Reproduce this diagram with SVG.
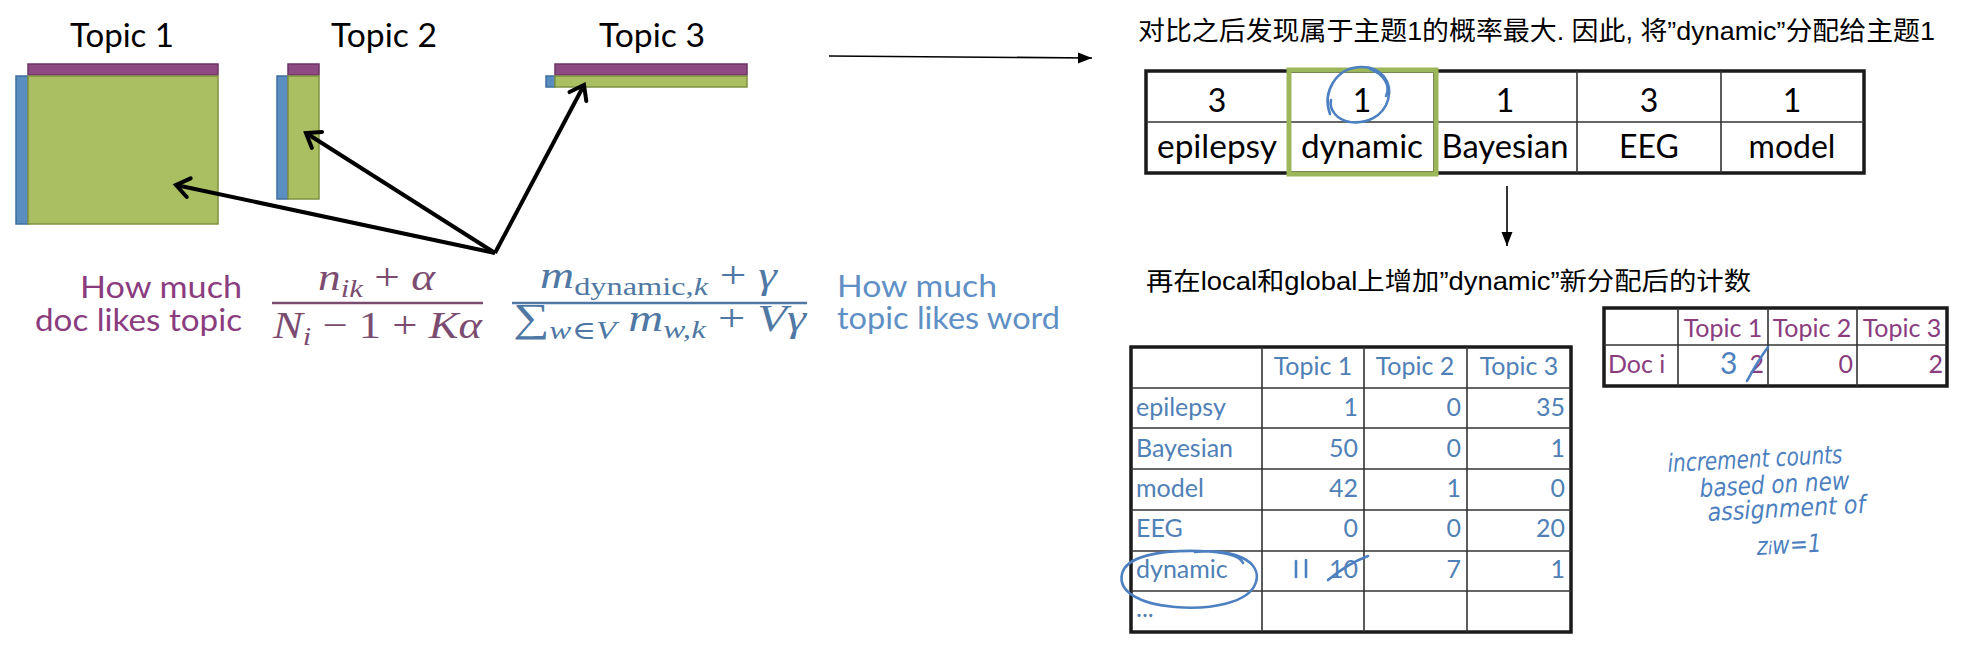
<svg xmlns="http://www.w3.org/2000/svg" width="1974" height="654" viewBox="0 0 1974 654">
<defs>
<style>
.title{font-family:Lato,"Open Sans",sans-serif;font-size:33px;fill:#000;text-anchor:middle}
.purp{fill:#8e4a82;stroke:#6d3563;stroke-width:1.5}
.grn{fill:#a9bf62;stroke:#7f9140;stroke-width:1.5}
.blu{fill:#5b8ec0;stroke:#3f6f9f;stroke-width:1.5}
.lblP{font-family:Lato,"Open Sans",sans-serif;font-size:31px;fill:#8a3c7e}
.lblB{font-family:Lato,"Open Sans",sans-serif;font-size:31px;fill:#5f90c5}
.mathP{font-family:"Liberation Serif","DejaVu Serif",serif;font-size:38px;fill:#7b4c70}
.mathB{font-family:"Liberation Serif","DejaVu Serif",serif;font-size:38px;fill:#4f78a4}
.it{font-style:italic}
.cn{font-family:"Liberation Sans","Noto Sans CJK SC",sans-serif;fill:#000}
.tb{font-family:Lato,"Open Sans",sans-serif;font-size:32px;fill:#000;text-anchor:middle}
.gt{font-family:Lato,"Open Sans",sans-serif;font-size:25px;fill:#4f80b6}
.dt{font-family:Lato,"Open Sans",sans-serif;font-size:25px;fill:#8a3c7e}
.mid{text-anchor:middle}
.end{text-anchor:end}
.outer{fill:none;stroke:#1a1a1a;stroke-width:3.5}
.inner{stroke:#333;stroke-width:1.6;fill:none}
.hand{fill:none;stroke:#4d80c0;stroke-width:2.6;stroke-linecap:round;stroke-linejoin:round}
.handT{font-family:"DejaVu Sans",Lato,sans-serif;font-style:italic;font-size:25px;fill:#4d7fbf}
.conn{stroke:#000;stroke-width:4;fill:none}
.thin{stroke:#000;stroke-width:1.6;fill:none}
</style>
<marker id="openArrow" markerUnits="userSpaceOnUse" markerWidth="30" markerHeight="30" refX="18" refY="12" orient="auto" overflow="visible">
<path d="M5,2.5 L18,12 L5,21.5" fill="none" stroke="#000" stroke-width="4" stroke-linecap="round" stroke-linejoin="miter"/>
</marker>
<marker id="solidArrow" markerUnits="userSpaceOnUse" markerWidth="16" markerHeight="12" refX="14" refY="5.5" orient="auto">
<path d="M0,0 L14,5.5 L0,11 z" fill="#000"/>
</marker>
</defs>
<rect width="1974" height="654" fill="#fff"/>

<g id="topic1">
<text class="title" x="122" y="47" textLength="104" lengthAdjust="spacingAndGlyphs">Topic 1</text>
<rect class="purp" x="28" y="64" width="190" height="11"/>
<rect class="blu" x="16" y="76" width="12" height="148"/>
<rect class="grn" x="28" y="76" width="190" height="148"/>
</g>
<g id="topic2">
<text class="title" x="384" y="47" textLength="106" lengthAdjust="spacingAndGlyphs">Topic 2</text>
<rect class="purp" x="288" y="64" width="31" height="11"/>
<rect class="blu" x="277" y="76" width="11" height="123"/>
<rect class="grn" x="288" y="76" width="31" height="123"/>
</g>
<g id="topic3">
<text class="title" x="652" y="47" textLength="106" lengthAdjust="spacingAndGlyphs">Topic 3</text>
<rect class="purp" x="555" y="64" width="192" height="11"/>
<rect class="blu" x="546" y="76" width="9" height="11"/>
<rect class="grn" x="555" y="76" width="192" height="11"/>
</g>

<g id="doc-label">
<text class="lblP end" x="242" y="298" textLength="162" lengthAdjust="spacingAndGlyphs">How much</text>
<text class="lblP end" x="242" y="331" textLength="207" lengthAdjust="spacingAndGlyphs">doc likes topic</text>
</g>
<g id="formula-doc">
<text class="mathP" x="318" y="290" textLength="117" lengthAdjust="spacingAndGlyphs"><tspan class="it">n</tspan><tspan class="it" font-size="26" dy="7">ik</tspan><tspan dy="-7"> + </tspan><tspan class="it">α</tspan></text>
<line x1="272" y1="303" x2="483" y2="303" stroke="#7b4c70" stroke-width="2.5"/>
<text class="mathP" x="273" y="338" textLength="209" lengthAdjust="spacingAndGlyphs"><tspan class="it">N</tspan><tspan class="it" font-size="26" dy="7">i</tspan><tspan dy="-7"> − 1 + </tspan><tspan class="it">Kα</tspan></text>
</g>
<g id="formula-word">
<text class="mathB" x="540" y="288" textLength="237" lengthAdjust="spacingAndGlyphs"><tspan class="it">m</tspan><tspan font-size="26" dy="7">dynamic,</tspan><tspan class="it" font-size="26">k</tspan><tspan dy="-7"> + </tspan><tspan class="it">γ</tspan></text>
<line x1="512" y1="303" x2="807" y2="303" stroke="#4f78a4" stroke-width="2.5"/>
<text class="mathB" x="513" y="331" textLength="293" lengthAdjust="spacingAndGlyphs"><tspan font-size="40">∑</tspan><tspan class="it" font-size="26" dy="8">w</tspan><tspan font-size="26">∈</tspan><tspan class="it" font-size="26">V</tspan><tspan dy="-8"> </tspan><tspan class="it">m</tspan><tspan class="it" font-size="26" dy="7">w,k</tspan><tspan dy="-7"> + </tspan><tspan class="it">Vγ</tspan></text>
</g>
<g id="word-label">
<text class="lblB" x="837" y="297" textLength="160" lengthAdjust="spacingAndGlyphs">How much</text>
<text class="lblB" x="837" y="329" textLength="223" lengthAdjust="spacingAndGlyphs">topic likes word</text>
</g>

<g id="heading1">
<text class="cn" x="1138" y="40" font-size="26" textLength="797" lengthAdjust="spacingAndGlyphs">对比之后发现属于主题1的概率最大. 因此, 将”dynamic”分配给主题1</text>
</g>

<g id="assignment-table">
<rect class="outer" x="1146" y="71" width="718" height="102"/>
<line class="inner" x1="1146" y1="122" x2="1864" y2="122"/>
<line class="inner" x1="1289" y1="71" x2="1289" y2="173"/>
<line class="inner" x1="1434" y1="71" x2="1434" y2="173"/>
<line class="inner" x1="1577" y1="71" x2="1577" y2="173"/>
<line class="inner" x1="1721" y1="71" x2="1721" y2="173"/>
<text class="tb" x="1217" y="112">3</text>
<text class="tb" x="1362" y="112">1</text>
<text class="tb" x="1505" y="112">1</text>
<text class="tb" x="1649" y="112">3</text>
<text class="tb" x="1792" y="112">1</text>
<text class="tb" x="1217" y="158" textLength="120" lengthAdjust="spacingAndGlyphs">epilepsy</text>
<text class="tb" x="1362" y="158" textLength="122" lengthAdjust="spacingAndGlyphs">dynamic</text>
<text class="tb" x="1505" y="158" textLength="127" lengthAdjust="spacingAndGlyphs">Bayesian</text>
<text class="tb" x="1649" y="158">EEG</text>
<text class="tb" x="1792" y="158">model</text>
<rect x="1289" y="70" width="147" height="104" fill="none" stroke="#9cb75a" stroke-width="5"/>
<path class="hand" d="M1330,114 C1322,92 1336,68 1360,67 C1381,66 1393,82 1388,100 C1383,117 1366,124 1350,122 C1337,120 1329,110 1331,100"/>
<path class="hand" d="M1370,69 C1384,74 1391,86 1386,96"/>
</g>

<g id="heading2">
<text class="cn" x="1146" y="290" font-size="25" textLength="605" lengthAdjust="spacingAndGlyphs">再在local和global上增加”dynamic”新分配后的计数</text>
</g>

<g id="global-table">
<rect class="outer" x="1131" y="347" width="440" height="285"/>
<line class="inner" x1="1131" y1="388" x2="1571" y2="388"/>
<line class="inner" x1="1131" y1="428" x2="1571" y2="428"/>
<line class="inner" x1="1131" y1="469" x2="1571" y2="469"/>
<line class="inner" x1="1131" y1="510" x2="1571" y2="510"/>
<line class="inner" x1="1131" y1="551" x2="1571" y2="551"/>
<line class="inner" x1="1131" y1="591" x2="1571" y2="591"/>
<line class="inner" x1="1262" y1="347" x2="1262" y2="632"/>
<line class="inner" x1="1364" y1="347" x2="1364" y2="632"/>
<line class="inner" x1="1467" y1="347" x2="1467" y2="632"/>
<text class="gt mid" x="1313" y="375">Topic 1</text>
<text class="gt mid" x="1415" y="375">Topic 2</text>
<text class="gt mid" x="1519" y="375">Topic 3</text>
<text class="gt" x="1136" y="416">epilepsy</text>
<text class="gt end" x="1358" y="416">1</text>
<text class="gt end" x="1461" y="416">0</text>
<text class="gt end" x="1565" y="416">35</text>
<text class="gt" x="1136" y="457">Bayesian</text>
<text class="gt end" x="1358" y="457">50</text>
<text class="gt end" x="1461" y="457">0</text>
<text class="gt end" x="1565" y="457">1</text>
<text class="gt" x="1136" y="497">model</text>
<text class="gt end" x="1358" y="497">42</text>
<text class="gt end" x="1461" y="497">1</text>
<text class="gt end" x="1565" y="497">0</text>
<text class="gt" x="1136" y="537">EEG</text>
<text class="gt end" x="1358" y="537">0</text>
<text class="gt end" x="1461" y="537">0</text>
<text class="gt end" x="1565" y="537">20</text>
<text class="gt" x="1136" y="578">dynamic</text>
<text class="gt end" x="1358" y="578">10</text>
<text class="gt end" x="1461" y="578">7</text>
<text class="gt end" x="1565" y="578">1</text>
<text class="gt" x="1136" y="617">...</text>
<path class="hand" d="M1195,552 C1235,548 1262,562 1256,582 C1250,603 1210,610 1175,607 C1140,604 1118,592 1122,574 C1126,556 1160,550 1200,551 C1225,552 1240,556 1243,563"/>
<path class="hand" stroke-width="3.2" d="M1296,561 L1296,577 M1306,560 L1306,577"/>
<path class="hand" d="M1328,580 C1340,570 1352,562 1368,556"/>
</g>

<g id="doc-table">
<rect class="outer" x="1604" y="308" width="343" height="78"/>
<line class="inner" x1="1604" y1="345" x2="1947" y2="345"/>
<line class="inner" x1="1678" y1="308" x2="1678" y2="386"/>
<line class="inner" x1="1768" y1="308" x2="1768" y2="386"/>
<line class="inner" x1="1857" y1="308" x2="1857" y2="386"/>
<text class="dt mid" x="1723" y="337">Topic 1</text>
<text class="dt mid" x="1812" y="337">Topic 2</text>
<text class="dt mid" x="1902" y="337">Topic 3</text>
<text class="dt" x="1608" y="373">Doc i</text>
<text class="dt end" x="1764" y="373">2</text>
<text class="dt end" x="1853" y="373">0</text>
<text class="dt end" x="1943" y="373">2</text>
<text x="1720" y="374" font-family="Lato,sans-serif" font-size="30" fill="#4d80c0">3</text>
<path class="hand" d="M1747,381 C1753,370 1760,358 1768,347"/>
</g>

<g id="note">
<text class="handT" x="1668" y="472" textLength="175" lengthAdjust="spacingAndGlyphs" transform="rotate(-3 1668 472)">increment counts</text>
<text class="handT" x="1700" y="497" textLength="150" lengthAdjust="spacingAndGlyphs" transform="rotate(-3 1700 497)">based on new</text>
<text class="handT" x="1708" y="521" textLength="158" lengthAdjust="spacingAndGlyphs" transform="rotate(-3 1708 521)">assignment of</text>
<text class="handT" x="1757" y="555" font-size="27" textLength="65" lengthAdjust="spacingAndGlyphs" transform="rotate(-3 1757 555)">z<tspan font-size="18">i</tspan>w=1</text>
</g>

<g id="connectors">
<line class="conn" x1="495" y1="253" x2="176" y2="185" marker-end="url(#openArrow)"/>
<line class="conn" x1="495" y1="253" x2="306" y2="133" marker-end="url(#openArrow)"/>
<line class="conn" x1="495" y1="253" x2="584" y2="85" marker-end="url(#openArrow)"/>
<line class="thin" x1="829" y1="56" x2="1092" y2="58" marker-end="url(#solidArrow)"/>
<line class="thin" x1="1507" y1="186" x2="1507" y2="246" marker-end="url(#solidArrow)"/>
</g>
</svg>
